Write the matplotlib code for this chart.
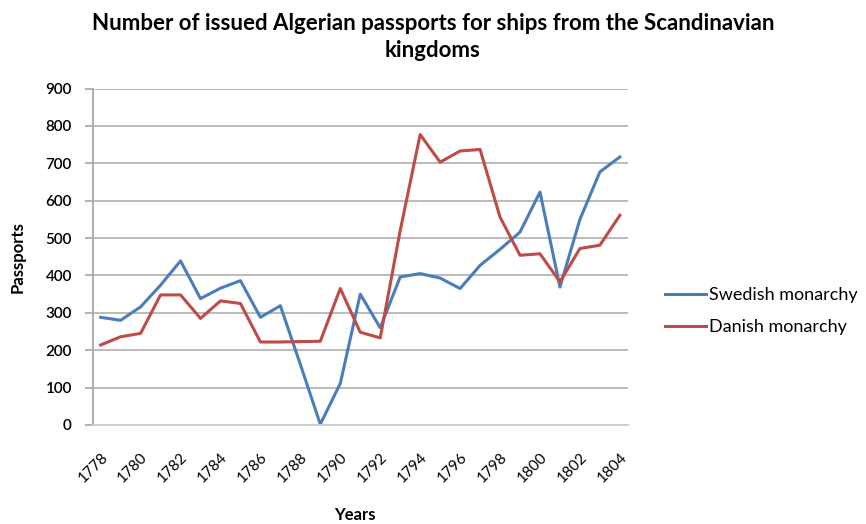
import numpy as np
from matplotlib import pyplot as plt

plt.rcParams['font.family'] = ['Lato', 'DejaVu Sans']

years = np.arange(1778, 1805)
swedish = [288, 280, 316, 374, 439, 338, 366, 386, 288, 319, 162, 2, 111,
           350, 260, 396, 405, 393, 365, 427, 470, 516, 623, 369, 550, 677, 717]
danish = [214, 236, 245, 348, 348, 285, 332, 325, 222, 222, 223, 224, 365,
          248, 233, 520, 777, 703, 733, 737, 556, 454, 458, 383, 472, 481, 561]
tick_years = np.arange(1778, 1805, 2)

fig = plt.figure(figsize=(8.66, 5.24), dpi=100)
ax = fig.add_axes([0.107, 0.189, 0.618, 0.642])

ax.plot(years, swedish, color='#4a7ebb', lw=2.2, label='Swedish monarchy')
ax.plot(years, danish, color='#be4b48', lw=2.2, label='Danish monarchy')

ax.set_xlim(1777.6, 1804.4)
ax.set_ylim(0, 900)
ax.set_yticks(np.arange(0, 901, 100))
ax.set_xticks(tick_years)
ax.set_xticklabels([str(y) for y in tick_years], rotation=45, ha='right',
                   va='top', rotation_mode='anchor', fontsize=11)
ax.tick_params(axis='x', length=0, pad=18)
ax.tick_params(axis='y', length=6, width=1.2, color='#a6a6a6', labelsize=11, pad=9)
for lbl in ax.get_yticklabels():
    lbl.set_fontweight('semibold')

ax.yaxis.grid(True, color='#b5b5b5', lw=1.3)
ax.set_axisbelow(True)
for s in ['top', 'right']:
    ax.spines[s].set_visible(False)
ax.spines['left'].set_color('#a6a6a6')
ax.spines['left'].set_linewidth(1.3)
ax.spines['bottom'].set_color('#d0d0d0')
ax.spines['bottom'].set_linewidth(1.3)

ax.set_ylabel('Passports', fontsize=12, fontweight='bold')
ax.yaxis.set_label_coords(-0.125, 0.5)
ax.set_xlabel('Years', fontsize=12, fontweight='bold')
ax.xaxis.set_label_coords(0.49, -0.245)
fig.text(0.5, 0.975, 'Number of issued Algerian passports for ships from the Scandinavian\nkingdoms',
         ha='center', va='top', fontsize=16, fontweight='bold', linespacing=1.35)

ax.legend(loc='center left', bbox_to_anchor=(0.757, 0.406), bbox_transform=fig.transFigure,
          frameon=False, borderpad=0, fontsize=13, handlelength=2.3,
          handletextpad=0.15, labelspacing=0.9)

plt.savefig('out.png', dpi=100)
